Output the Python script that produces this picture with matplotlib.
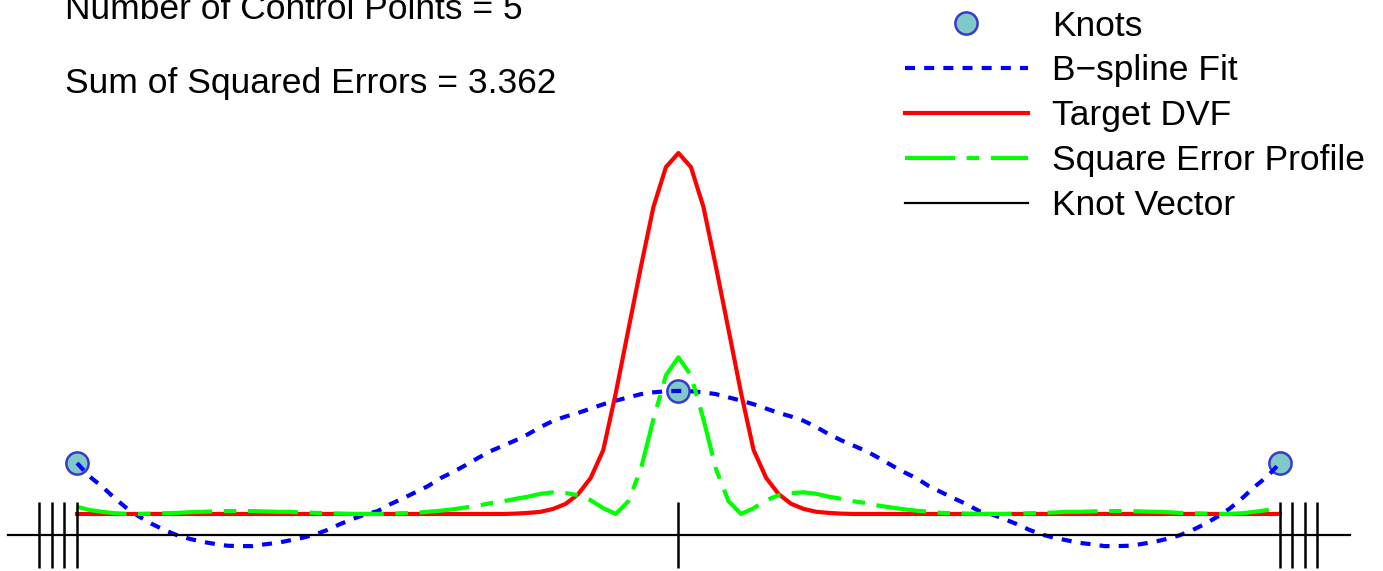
import matplotlib
matplotlib.use("Agg")
import matplotlib.pyplot as plt

plt.rcParams["font.family"] = ["Liberation Sans", "DejaVu Sans"]

# sample index along the curve (knots at 0, 48, 96)
x_samples = list(range(97))

bspline_left = [0.141, 0.104, 0.076, 0.044, 0.015, -0.008, -0.028, -0.045, -0.059, -0.069,
                -0.077, -0.083, -0.088, -0.089, -0.089, -0.084, -0.080, -0.073, -0.066, -0.057,
                -0.044, -0.028, -0.014, -0.001, 0.008, 0.027, 0.043, 0.060, 0.077, 0.099,
                0.116, 0.135, 0.155, 0.174, 0.189, 0.204, 0.221, 0.241, 0.258, 0.270,
                0.280, 0.292, 0.304, 0.314, 0.323, 0.332, 0.337, 0.340]
bspline_right = [0.340, 0.337, 0.332, 0.323, 0.314, 0.304, 0.292, 0.280,
                 0.270, 0.258, 0.241, 0.221, 0.204, 0.189, 0.174, 0.155, 0.135, 0.116,
                 0.099, 0.077, 0.060, 0.043, 0.027, 0.008, -0.001, -0.014, -0.028, -0.044,
                 -0.057, -0.066, -0.073, -0.080, -0.084, -0.089, -0.089, -0.088, -0.083, -0.077,
                 -0.069, -0.059, -0.045, -0.028, -0.008, 0.015, 0.044, 0.076, 0.104, 0.141]
bspline_fit = bspline_left + [0.341] + bspline_right

target_left = [0.0] * 35 + [0.001, 0.003, 0.006, 0.014, 0.028, 0.055, 0.100, 0.177,
                            0.335, 0.510, 0.684, 0.850, 0.961]
target_right = [0.961, 0.850, 0.684, 0.510, 0.335, 0.177, 0.100, 0.055, 0.028, 0.014,
                0.006, 0.003, 0.001] + [0.0] * 35
target_dvf = target_left + [1.0] + target_right

error_left = [0.020, 0.011, 0.006, 0.002, 0.000, 0.000, 0.001, 0.002, 0.003, 0.005,
              0.006, 0.007, 0.008, 0.008, 0.008, 0.007, 0.006, 0.006, 0.004, 0.003,
              0.002, 0.001, 0.000, 0.000, 0.000, 0.001, 0.002, 0.003, 0.006, 0.009,
              0.013, 0.018, 0.023, 0.030, 0.035, 0.042, 0.048, 0.056, 0.060, 0.058,
              0.052, 0.038, 0.016, 0.000, 0.035, 0.124, 0.262, 0.384]
error_right = [0.384, 0.262, 0.124, 0.035, 0.000, 0.016, 0.038, 0.052,
               0.058, 0.060, 0.056, 0.048, 0.042, 0.035, 0.030, 0.023, 0.018, 0.013,
               0.009, 0.006, 0.003, 0.002, 0.001, 0.000, 0.000, 0.000, 0.001, 0.002,
               0.003, 0.004, 0.006, 0.006, 0.007, 0.008, 0.008, 0.008, 0.007, 0.006,
               0.005, 0.003, 0.002, 0.001, 0.000, 0.000, 0.002, 0.006, 0.011, 0.020]
square_error = error_left + [0.434] + error_right

knot_x = [0, 48, 96]
knot_y = [0.141, 0.341, 0.141]

# knot vector drawn with repeated end knots offset for visibility
knot_vector = [-3, -2, -1, 0, 48, 96, 97, 98, 99]

n_control = 5
sse = 3.362

fig = plt.figure(figsize=(13.83, 5.71), dpi=100)
ax = fig.add_axes([0, 0, 1, 1])
ax.set_xlim(-6.145, 104.23)
ax.set_ylim(-0.158, 1.424)
ax.axis("off")

ax.plot(knot_x, knot_y, "o", markersize=16, markerfacecolor="#7fc9c9",
        markeredgecolor="#3a3ac8", markeredgewidth=1.8, linestyle="none",
        label="Knots", zorder=2)
ax.plot(x_samples, bspline_fit, color="#0000ff", linewidth=3.0,
        linestyle=(0, (2.4, 2.2)), label="B\u2212spline Fit", zorder=3)
ax.plot(x_samples, target_dvf, color="#ff0000", linewidth=3.0,
        label="Target DVF", zorder=3)
ax.plot(x_samples, square_error, color="#00ff00", linewidth=3.0,
        linestyle=(0, (12, 2.8, 3, 2.8)), label="Square Error Profile", zorder=4)
ax.plot([-5.5, 101.6], [-0.0596, -0.0596], color="black", linewidth=1.6,
        label="Knot Vector", zorder=5)
ax.vlines(knot_vector, -0.150, 0.033, color="black", linewidth=1.8, zorder=5)

fs = 25.5
fig.text(65 / 1383, 1 - 19 / 571, f"Number of Control Points = {n_control}",
         fontsize=fs, va="baseline", ha="left")
fig.text(65 / 1383, 1 - 93 / 571, f"Sum of Squared Errors = {sse}",
         fontsize=fs, va="baseline", ha="left")

ax.legend(loc="upper left", bbox_to_anchor=(905 / 1383, 1 - 9.5 / 571),
          bbox_transform=fig.transFigure, frameon=False, fontsize=fs,
          handlelength=3.47, handletextpad=0.68, labelspacing=0.335,
          borderpad=0, borderaxespad=0, numpoints=1)

fig.savefig("out.png", dpi=100)
